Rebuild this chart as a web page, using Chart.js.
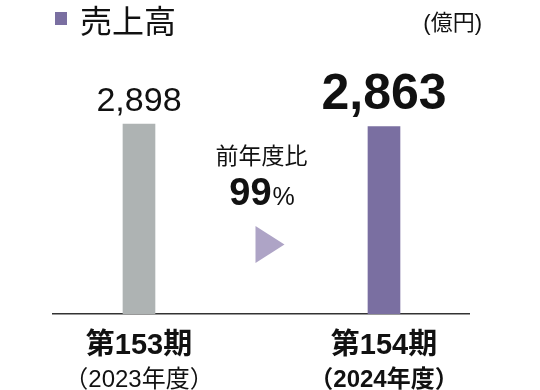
<!DOCTYPE html>
<html>
<head>
<meta charset="utf-8">
<script src="https://cdn.jsdelivr.net/npm/chart.js@4"></script>
<style>
  body { margin: 0; background: #fff; }
  #wrap { width: 540px; height: 390px; position: relative; }
</style>
</head>
<body>
<div id="wrap"><canvas id="salesChart"></canvas></div>
<script>
// データ
const periods = ['第153期', '第154期'];
const fiscalYears = ['（2023年度）', '（2024年度）'];
const sales = [2898, 2863];
const yoyLabel = '前年度比';
const yoyPercent = 99;
const chartTitle = '売上高';
const unitLabel = '(億円)';

const FONT = '"Liberation Sans", "Noto Sans CJK JP", sans-serif';
const GRAY = '#aeb3b3';
const PURPLE = '#7a6fa1';
const current = periods.length - 1;

// タイトル・数値・期ラベルを描くプラグイン
const labelPlugin = {
    id: 'labels',
    afterDraw(chart) {
        const ctx = chart.ctx;
        const xs = chart.scales.x;
        const meta = chart.getDatasetMeta(0);
        ctx.save();

        // タイトル
        ctx.fillStyle = PURPLE;
        ctx.fillRect(55, 12, 12, 13);
        ctx.fillStyle = '#111';
        ctx.textBaseline = 'alphabetic';
        ctx.textAlign = 'left';
        ctx.font = '32px ' + FONT;
        ctx.fillText(chartTitle, 80, 33);
        ctx.textAlign = 'right';
        ctx.font = '22px ' + FONT;
        ctx.fillText(unitLabel, 482, 30);

        // 棒の上の数値
        ctx.textAlign = 'center';
        meta.data.forEach((bar, i) => {
            const isCur = i === current;
            ctx.font = (isCur ? 'bold 50px ' : '34px ') + FONT;
            ctx.fillText(sales[i].toLocaleString('en-US'), bar.x, bar.y - (isCur ? 17 : 13));
        });

        // 期ラベル
        periods.forEach((p, i) => {
            const x = xs.getPixelForValue(i);
            const isCur = i === current;
            ctx.font = 'bold 29px ' + FONT;
            ctx.fillText(p, x, 354);
            ctx.font = (isCur ? 'bold ' : '') + '24px ' + FONT;
            ctx.fillText(fiscalYears[i], x, 387);
        });

        // 前年度比
        const mid = xs.getPixelForValue(0.5);
        ctx.font = '23px ' + FONT;
        ctx.fillText(yoyLabel, mid, 164);
        ctx.font = 'bold 38px ' + FONT;
        const num = String(yoyPercent);
        const wNum = ctx.measureText(num).width;
        ctx.font = '25px ' + FONT;
        const wPct = ctx.measureText('%').width;
        const start = mid - (wNum + wPct) / 2;
        ctx.textAlign = 'left';
        ctx.font = 'bold 38px ' + FONT;
        ctx.fillText(num, start, 205);
        ctx.font = '25px ' + FONT;
        ctx.fillText('%', start + wNum + 1, 205);

        // 矢印
        ctx.fillStyle = '#aea4c6';
        ctx.beginPath();
        ctx.moveTo(mid - 6, 226);
        ctx.lineTo(mid + 23, 244.5);
        ctx.lineTo(mid - 6, 263);
        ctx.closePath();
        ctx.fill();

        ctx.restore();
    }
};

new Chart(document.getElementById('salesChart'), {
    type: 'bar',
    data: {
        datasets: [{
            data: sales.map((v, i) => ({ x: i, y: v })),
            backgroundColor: [GRAY, PURPLE],
            barThickness: 32,
        }]
    },
    options: {
        responsive: true,
        maintainAspectRatio: false,
        animation: false,
        layout: { padding: { left: 53, right: 71, top: 52, bottom: 68 } },
        plugins: {
            legend: { display: false },
            tooltip: { enabled: false },
        },
        scales: {
            x: {
                type: 'linear',
                offset: false,
                min: -0.351,
                max: 1.347,
                grid: { display: false },
                ticks: { display: false },
                border: { display: true, color: '#333', width: 1.5 },
            },
            y: {
                display: false,
                min: 0,
                max: 4000,
            }
        }
    },
    plugins: [labelPlugin]
});
</script>
</body>
</html>
